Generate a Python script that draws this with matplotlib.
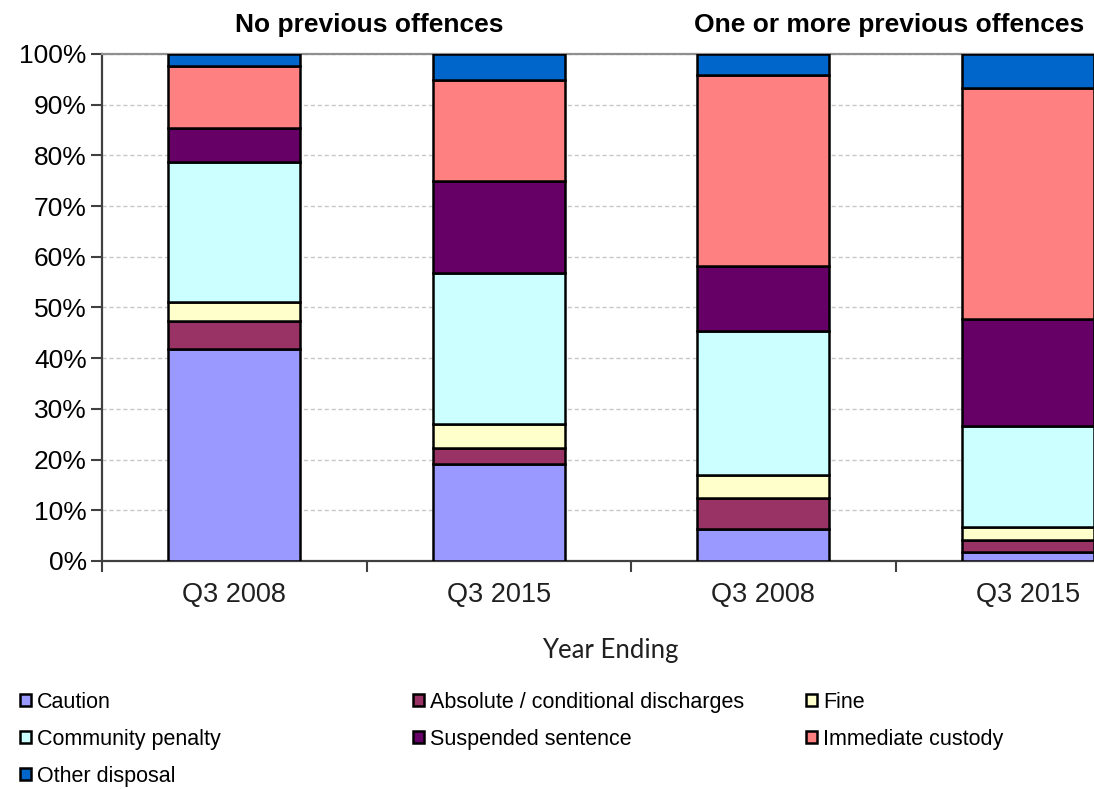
import matplotlib.pyplot as plt
import matplotlib.ticker as mticker

# ----- Data ----- #
categories = ["Q3 2008", "Q3 2015", "Q3 2008", "Q3 2015"]
groups = ["No previous offences", "One or more previous offences"]

series_names = ["Caution", "Absolute / conditional discharges", "Fine",
                "Community penalty", "Suspended sentence", "Immediate custody",
                "Other disposal"]
series_colors = ["#9999FF", "#993366", "#FFFFCC", "#CCFFFF", "#660066",
                 "#FF8080", "#0066CC"]

caution = [41.9, 19.1, 6.3, 1.8]
discharges = [5.5, 3.1, 6.1, 2.3]
fine = [3.7, 4.8, 4.5, 2.7]
community = [27.5, 29.9, 28.5, 19.8]
suspended = [6.9, 18.1, 12.8, 21.1]
custody = [12.2, 19.9, 37.7, 45.5]
other = [2.3, 5.1, 4.1, 6.8]

series_values = [caution, discharges, fine, community, suspended, custody, other]

# ----- Figure ----- #
plt.rcParams['font.family'] = ['Liberation Sans', 'DejaVu Sans']
fig = plt.figure(figsize=(10.94, 7.89), dpi=100)
# axes run past the right edge of the picture, like the cropped original
ax = fig.add_axes([102 / 1094, 228 / 789, 1058 / 1094, 507 / 789])

x = list(range(len(categories)))
bottom = [0] * len(categories)
containers = []
for name, vals, col in zip(series_names, series_values, series_colors):
    bc = ax.bar(x, vals, 0.5, bottom=bottom, color=col, edgecolor="black",
                linewidth=1.8, label=name, zorder=3)
    containers.append(bc)
    bottom = [b + v for b, v in zip(bottom, vals)]

ax.set_xlim(-0.5, 3.5)
ax.set_ylim(0, 100)
ax.yaxis.set_major_locator(mticker.MultipleLocator(10))
ax.yaxis.set_major_formatter(mticker.FuncFormatter(lambda v, p: f"{v:.0f}%"))
ax.yaxis.grid(True, linestyle=(0, (3, 2)), color="#C8C8C8", linewidth=1, zorder=0)

ax.set_xticks(x)
ax.set_xticklabels(categories)
ax.set_xticks([-0.5, 0.5, 1.5, 2.5], minor=True)
ax.tick_params(axis="x", which="major", length=0, pad=15, labelsize=19.5,
               colors="#202020")
ax.tick_params(axis="x", which="minor", length=8, width=1.5, color="#404040")
ax.tick_params(axis="y", length=8, width=1.5, color="#404040", labelsize=19,
               pad=3, labelcolor="#000000")

for s in ["left", "bottom"]:
    ax.spines[s].set_color("#404040")
    ax.spines[s].set_linewidth(1.6)
ax.spines["top"].set_color("#909090")
ax.spines["top"].set_linewidth(1.6)
ax.spines["right"].set_visible(False)

ax.set_xlabel("Year Ending", fontsize=18.5, family=["Lato", "DejaVu Sans"],
              color="#202020")
ax.xaxis.set_label_coords((610 - 102) / 1058, -(638 - 561) / 507)

# group titles
fig.text(369 / 1094, 1 - 25 / 789, groups[0], ha="center", va="center",
         fontsize=19, fontweight="bold")
fig.text(889 / 1094, 1 - 25 / 789, groups[1], ha="center", va="center",
         fontsize=19, fontweight="bold")

# legend: three columns placed separately
columns = [[0, 3, 6], [1, 4], [2, 5]]
col_x = [20, 413, 806]
for cx, idx in zip(col_x, columns):
    fig.legend([containers[i] for i in idx], [series_names[i] for i in idx],
               loc="upper left", bbox_to_anchor=(cx / 1094, 1 - 692 / 789),
               frameon=False, fontsize=15.5, handlelength=0.5,
               handleheight=0.5, handletextpad=0.3, labelspacing=0.74,
               borderaxespad=0, borderpad=0)

fig.savefig("out.png", dpi=100)
